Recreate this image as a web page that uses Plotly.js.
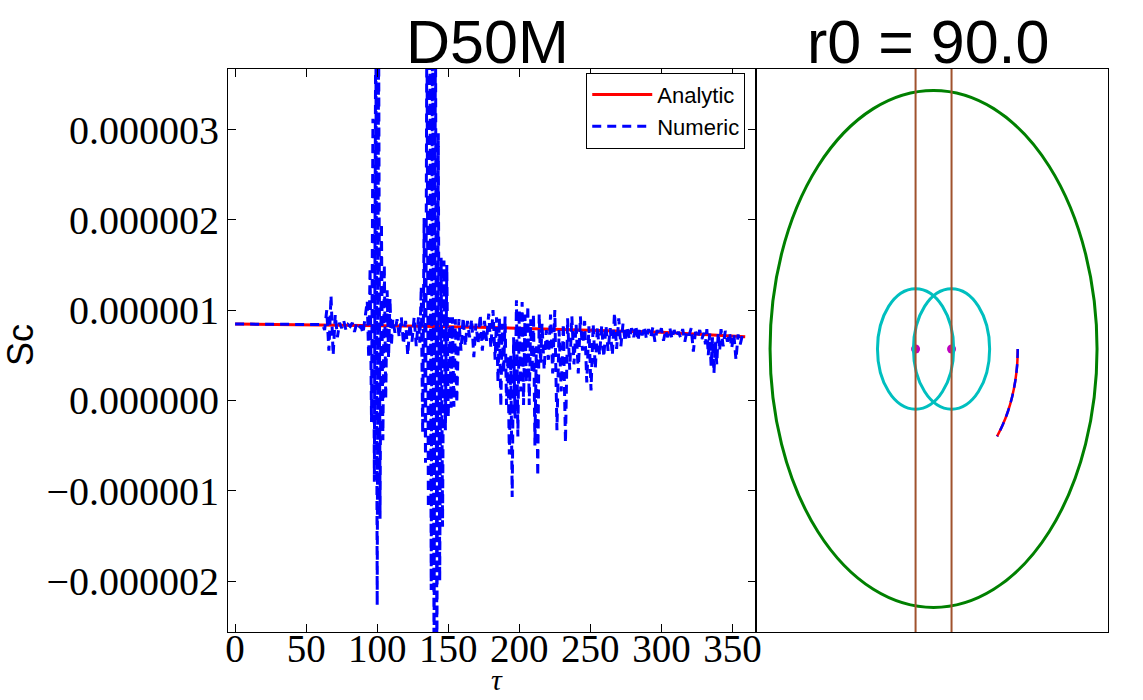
<!DOCTYPE html>
<html>
<head>
<meta charset="utf-8">
<script src="https://cdn.plot.ly/plotly-3.0.1.min.js"></script>
<style>
  html, body { margin: 0; padding: 0; background: #fff; }
  #chart { width: 1143px; height: 700px; }
</style>
</head>
<body>
<div id="chart"></div>
<script>
// left panel: Sc against tau (values in units of 1e-6)
const tauAnalytic = [0, 60, 120, 180, 240, 300, 359];
const scAnalytic = [0.846, 0.838, 0.825, 0.808, 0.785, 0.755, 0.705];

const tauNumeric = [
  0, 20, 40, 60,
  61.5, 63, 64.5, 66, 67.5, 69, 70.5, 72, 73.5, 75, 76.5, 78, 79.5, 81, 82.5, 84, 85.5, 87, 88.5, 90, 91.5,
  93, 94, 95, 96, 97, 98, 99, 100, 101, 102, 103, 104, 105, 106, 107, 108, 109, 110, 111,
  112.5, 114, 115.5, 117, 118.5, 120, 121.5, 123, 124.5, 126, 127.5,
  129, 130, 131, 132, 133, 134, 135, 136, 137, 138, 139, 140, 141, 142, 143, 144, 145, 146, 147, 148, 149, 150, 151, 152, 153, 154, 155, 156,
  157.5, 159, 160.5, 162, 163.5, 165, 166.5, 168, 169.5, 171, 172.5, 174, 175.5, 177, 178.5, 180, 181.5, 183,
  184, 185, 186, 187, 188, 189, 190, 191, 192, 193, 194, 195, 196, 197, 198, 199, 200, 201, 202, 203, 204, 205, 206, 207, 208, 209, 210, 211, 212, 213, 214, 215, 216,
  217.5, 219, 220.5, 222, 223.5, 225, 226.5, 228, 229.5, 231, 232.5, 234, 235.5, 237, 238.5, 240, 241.5, 243, 244.5, 246, 247.5, 249, 250.5, 252, 253.5, 255, 256.5,
  258, 259.5, 261, 262.5, 264, 265.5, 267, 268.5, 270, 271.5, 273, 274.5,
  276, 277.5, 279, 280.5, 282, 283.5, 285, 286.5, 288, 289.5, 291, 292.5, 294, 295.5, 297, 298.5, 300, 301.5, 303, 304.5, 306, 307.5, 309, 310.5, 312, 313.5, 315, 316.5, 318, 319.5, 321, 322.5, 324, 325.5, 327, 328.5, 330,
  331, 332, 333, 334, 335, 336, 337, 338, 339, 340, 341, 342,
  343.5, 345, 346.5, 348, 349.5, 351, 352.5, 354, 355.5, 357, 358.5
];
const scNumeric = [
  0.846, 0.843, 0.840, 0.838,
  0.84, 0.78, 1.0, 0.55, 1.16, 0.50, 0.95, 0.70, 0.86, 0.80, 0.88, 0.78, 0.84, 0.82, 0.86, 0.76, 0.85, 0.80, 0.83, 0.74, 0.90,
  1.1, 0.47, 1.47, -0.24, 3.12, -0.9, 4.6, -2.27, 4.2, -1.31, 1.96, -0.44, 1.5, 0.01, 1.22, 0.47, 1.13, 0.6, 0.9,
  0.75, 0.9, 0.7, 0.92, 0.62, 0.88, 0.5, 0.85, 0.65, 0.92, 0.6,
  0.92, 0.64, 1.26, -0.36, 2.02, -0.69, 4.5, -1.19, 4.8, -2.1, 4.8, -3.0, 4.5, -3.0, 2.96, -2.0, 1.58, -1.4, 1.55, -0.33, 1.5, -0.19, 0.92, -0.08, 0.92, -0.07, 0.9, -0.03,
  0.9, 0.55, 0.92, 0.6, 0.88, 0.7, 0.9, 0.48, 0.85, 0.62, 0.95, 0.55, 0.88, 0.66, 0.96, 0.58, 1.0, 0.45,
  0.92, 0.2, 0.91, -0.07, 0.85, 0.3, 0.93, -0.05, 0.5, -0.6, 0.5, -1.07, 0.7, -0.2, 1.11, -0.40, 1.0, 0.1, 1.09, -0.05, 0.95, 0.2, 1.05, -0.05, 0.9, 0.3, 0.96, -0.5, 0.6, -0.84, 0.96, 0.41, 0.85,
  0.34, 0.78, 0.45, 0.95, 0.3, 1.0, -0.33, 0.78, 0.1, 0.85, -0.47, 0.91, 0.34, 0.93, 0.4, 0.85, 0.3, 0.93, 0.55, 0.88, 0.2, 0.82, 0.11, 0.85, 0.35, 0.82, 0.5,
  0.83, 0.48, 0.83, 0.55, 0.8, 0.5, 0.97, 0.57, 0.91, 0.6, 0.85, 0.65,
  0.82, 0.68, 0.8, 0.7, 0.83, 0.66, 0.8, 0.72, 0.82, 0.68, 0.79, 0.7, 0.81, 0.65, 0.78, 0.72, 0.8, 0.66, 0.78, 0.7, 0.8, 0.68, 0.78, 0.7, 0.76, 0.7, 0.79, 0.65, 0.77, 0.72, 0.8, 0.54, 0.76, 0.7, 0.78, 0.68, 0.75,
  0.62, 0.79, 0.5, 0.74, 0.38, 0.7, 0.3, 0.65, 0.4, 0.75, 0.55, 0.79,
  0.6, 0.77, 0.65, 0.75, 0.58, 0.74, 0.45, 0.73, 0.62, 0.72, 0.68
];
const yTicks = [-2, -1, 0, 1, 2, 3];
const xTicks = [0, 50, 100, 150, 200, 250, 300, 350];

// right panel: geometry of the system
const outerRadius = 100;
const lobeRadius = 23.3;
const starX = [-11, 11];
const starY = [0, 0];
const wallX = [-11, 11];
const orbitX = [51.5, 51.12, 49.97, 48.08, 45.47, 42.19, 38.87];
const orbitY = [0, -6.28, -12.46, -18.46, -24.18, -29.54, -33.79];

const micro = v => v * 1e-6;

const traces = [
  {
    x: tauAnalytic, y: scAnalytic.map(micro), type: 'scatter', mode: 'lines',
    name: 'Analytic', line: { color: '#ff0000', width: 3 }
  },
  {
    x: tauNumeric, y: scNumeric.map(micro), type: 'scatter', mode: 'lines',
    name: 'Numeric', line: { color: '#0000ff', width: 3, dash: '9px,6px' }
  },
  {
    x: orbitX, y: orbitY, xaxis: 'x2', yaxis: 'y2', type: 'scatter', mode: 'lines',
    showlegend: false, line: { color: '#ff0000', width: 2.5, shape: 'spline' }
  },
  {
    x: orbitX, y: orbitY, xaxis: 'x2', yaxis: 'y2', type: 'scatter', mode: 'lines',
    showlegend: false, line: { color: '#0000ff', width: 2.5, dash: '9px,6px', shape: 'spline' }
  },
  {
    x: starX, y: starY, xaxis: 'x2', yaxis: 'y2', type: 'scatter', mode: 'markers',
    showlegend: false, marker: { color: '#bf00bf', size: 9 }
  }
];

const shapes = [
  {
    type: 'circle', xref: 'x2', yref: 'y2',
    x0: -outerRadius, x1: outerRadius, y0: -outerRadius, y1: outerRadius,
    line: { color: '#008000', width: 3 }
  }
];
starX.forEach(cx => {
  shapes.push({
    type: 'circle', xref: 'x2', yref: 'y2',
    x0: cx - lobeRadius, x1: cx + lobeRadius, y0: -lobeRadius, y1: lobeRadius,
    line: { color: '#00bfbf', width: 3 }
  });
});
wallX.forEach(wx => {
  shapes.push({
    type: 'line', xref: 'x2', yref: 'y2 domain', x0: wx, x1: wx, y0: 0, y1: 1,
    line: { color: '#a0522d', width: 2 }
  });
});

const serif = 'Liberation Serif, Times New Roman, serif';
const sans = 'Liberation Sans, Arial, sans-serif';

const layout = {
  width: 1143,
  height: 700,
  margin: { l: 0, r: 0, t: 0, b: 0 },
  paper_bgcolor: '#ffffff',
  plot_bgcolor: '#ffffff',
  showlegend: true,
  xaxis: {
    domain: [0.19948, 0.66142],
    range: [-5, 366.6],
    tickvals: xTicks,
    ticks: 'inside', ticklen: 8, tickcolor: '#000',
    showline: true, linecolor: '#000', linewidth: 1, mirror: 'ticks',
    showgrid: false, zeroline: false, automargin: false,
    ticklabelstandoff: -18,
    tickfont: { family: serif, size: 39, color: '#000' }
  },
  yaxis: {
    domain: [0.0971, 0.9014],
    range: [-2.565e-6, 3.67e-6],
    tickvals: yTicks.map(micro),
    tickformat: '.6f',
    ticks: 'inside', ticklen: 8, tickcolor: '#000',
    showline: true, linecolor: '#000', linewidth: 1, mirror: 'ticks',
    showgrid: false, zeroline: false, automargin: false,
    tickfont: { family: serif, size: 40, color: '#000' }
  },
  xaxis2: {
    domain: [0.66142, 0.96938], anchor: 'y2',
    range: [-108.6, 106.7],
    showticklabels: false, ticks: '',
    showline: true, linecolor: '#000', linewidth: 1, mirror: true,
    showgrid: false, zeroline: false
  },
  yaxis2: {
    domain: [0.0971, 0.9014], anchor: 'x2',
    range: [-109.5, 108.3],
    showticklabels: false, ticks: '',
    showline: true, linecolor: '#000', linewidth: 1, mirror: true,
    showgrid: false, zeroline: false
  },
  legend: {
    x: 0.652, y: 0.896, xanchor: 'right', yanchor: 'top',
    bgcolor: '#ffffff', bordercolor: '#000', borderwidth: 1,
    font: { family: sans, size: 22, color: '#000' },
    itemwidth: 60,
    tracegroupgap: 4
  },
  shapes: shapes,
  annotations: [
    {
      text: 'D50M', xref: 'paper', yref: 'paper', x: 0.4265, y: 0.94,
      xanchor: 'center', yanchor: 'middle', showarrow: false,
      font: { family: sans, size: 61, color: '#000' }
    },
    {
      text: 'r0 = 90.0', xref: 'paper', yref: 'paper', x: 0.8119, y: 0.94,
      xanchor: 'center', yanchor: 'middle', showarrow: false,
      font: { family: sans, size: 61, color: '#000' }
    },
    {
      text: 'Sc', xref: 'paper', yref: 'paper', x: 0.0175, y: 0.507,
      xanchor: 'center', yanchor: 'middle', showarrow: false, textangle: -90,
      font: { family: sans, size: 36, color: '#000' }
    },
    {
      text: '<i>τ</i>', xref: 'paper', yref: 'paper', x: 0.4348, y: 0.03,
      xanchor: 'center', yanchor: 'middle', showarrow: false,
      font: { family: serif, size: 30, color: '#000' }
    }
  ]
};

Plotly.newPlot('chart', traces, layout, { displayModeBar: false, responsive: false });
</script>
</body>
</html>
